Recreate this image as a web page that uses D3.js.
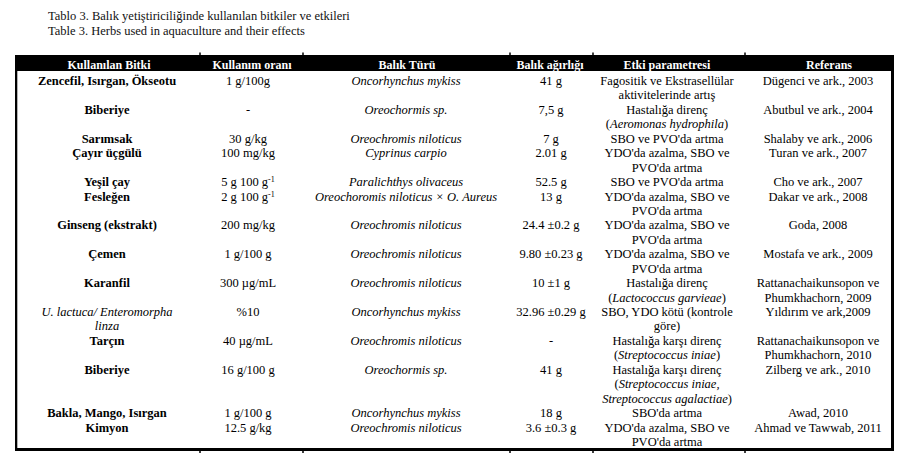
<!DOCTYPE html>
<html><head><meta charset="utf-8">
<script src="https://cdn.jsdelivr.net/npm/d3@7"></script>
<style>html,body{margin:0;padding:0;background:#fff;} svg{display:block;} svg text{font-family:"Liberation Serif","Times New Roman","DejaVu Serif",serif;}</style>
</head><body><svg id="c" width="899" height="454"></svg>
<script>
// ---- data ----
const titles = ["Tablo 3. Balık yetiştiriciliğinde kullanılan bitkiler ve etkileri",
                "Table 3. Herbs used in aquaculture and their effects"];
const headers = ["Kullanılan Bitki", "Kullanım oranı", "Balık Türü", "Balık ağırlığı", "Etki parametresi", "Referans"];
const plants = ["Zencefil, Isırgan, Ökseotu", "Biberiye", "Sarımsak", "Çayır üçgülü", "Yeşil çay", "Fesleğen",
  "Ginseng (ekstrakt)", "Çemen", "Karanfil", "*U. lactuca/ Enteromorpha*|*linza*", "Tarçın", "Biberiye",
  "Bakla, Mango, Isırgan", "Kimyon"];
const rates = ["1 g/100g", "-", "30 g/kg", "100 mg/kg", "5 g 100 g^-1^", "2 g 100 g^-1^", "200 mg/kg",
  "1 g/100 g", "300 µg/mL", "%10", "40 µg/mL", "16 g/100 g", "1 g/100 g", "12.5 g/kg"];
const species = ["Oncorhynchus mykiss", "Oreochormis sp.", "Oreochromis niloticus", "Cyprinus carpio",
  "Paralichthys olivaceus", "Oreochoromis niloticus × O. Aureus", "Oreochromis niloticus", "Oreochromis niloticus",
  "Oreochromis niloticus", "Oncorhynchus mykiss", "Oreochromis niloticus", "Oreochormis sp.",
  "Oncorhynchus mykiss", "Oreochromis niloticus"];
const weights = ["41 g", "7,5 g", "7 g", "2.01 g", "52.5 g", "13 g", "24.4 ±0.2 g", "9.80 ±0.23 g", "10 ±1 g",
  "32.96 ±0.29 g", "-", "41 g", "18 g", "3.6 ±0.3 g"];
const effects = ["Fagositik ve Ekstrasellülar|aktivitelerinde artış", "Hastalığa direnç|(*Aeromonas hydrophila*)",
  "SBO ve PVO'da artma", "YDO'da azalma, SBO ve|PVO'da artma", "SBO ve PVO'da artma",
  "YDO'da azalma, SBO ve|PVO'da artma", "YDO'da azalma, SBO ve|PVO'da artma", "YDO'da azalma, SBO ve|PVO'da artma",
  "Hastalığa direnç|(*Lactococcus garvieae*)", "SBO, YDO kötü (kontrole|göre)",
  "Hastalığa karşı direnç|(*Streptococcus iniae*)",
  "Hastalığa karşı direnç|(*Streptococcus iniae,*|*Streptococcus agalactiae*)",
  "SBO'da artma", "YDO'da azalma, SBO ve|PVO'da artma"];
const refs = ["Dügenci ve ark., 2003", "Abutbul ve ark., 2004", "Shalaby ve ark., 2006", "Turan ve ark., 2007",
  "Cho ve ark., 2007", "Dakar ve ark., 2008", "Goda, 2008", "Mostafa ve ark., 2009",
  "Rattanachaikunsopon ve|Phumkhachorn, 2009", "Yıldırım ve ark,2009",
  "Rattanachaikunsopon ve|Phumkhachorn, 2010", "Zilberg ve ark., 2010", "Awad, 2010", "Ahmad ve Tawwab, 2011"];

// ---- layout ----
const FS = 12.5;
const colEdges = [15, 200, 303, 510, 593, 745, 894];
const dataCenters = [107, 248, 406, 551, 667, 818];
const headCenters = [109, 252, 407, 550, 667, 829];
const columns = [
  {vals: plants, weight: "bold", style: "normal"},
  {vals: rates, weight: "normal", style: "normal"},
  {vals: species, weight: "normal", style: "italic"},
  {vals: weights, weight: "normal", style: "normal"},
  {vals: effects, weight: "normal", style: "normal"},
  {vals: refs, weight: "normal", style: "normal"}
];
const tableTop = 55, headBottom = 71, tableBottom = 451;

const svg = d3.select("#c").attr("font-size", FS);

// titles
svg.selectAll("text.title").data(titles).join("text").attr("class", "title")
  .attr("x", 48).attr("y", (d, i) => 19.7 + i * 15).attr("fill", "#111").text(d => d);

// line counts per row
const nRows = plants.length;
const rowLines = d3.range(nRows).map(r => d3.max(columns, c => c.vals[r].split("|").length));
const rowStart = [];
rowLines.reduce((acc, n, i) => { rowStart[i] = acc; return acc + n; }, 0);
const totalLines = d3.sum(rowLines);
const lineY = d3.scaleLinear().domain([0, totalLines - 1]).range([85, 446]);

// header band
svg.append("rect").attr("x", colEdges[0]).attr("y", tableTop)
  .attr("width", colEdges[colEdges.length - 1] - colEdges[0]).attr("height", headBottom - tableTop).attr("fill", "#000");
svg.selectAll("text.head").data(headers).join("text").attr("class", "head")
  .attr("x", (d, i) => headCenters[i]).attr("y", 68.5).attr("text-anchor", "middle")
  .attr("font-size", 12).attr("fill", "#fff").attr("font-weight", "bold").text(d => d);

// borders
svg.append("rect").attr("x", 15).attr("y", tableTop).attr("width", 2.3).attr("height", tableBottom - tableTop).attr("fill", "#000");
svg.append("rect").attr("x", 891).attr("y", tableTop).attr("width", 3).attr("height", tableBottom - tableTop).attr("fill", "#000");
svg.append("rect").attr("x", 15).attr("y", 448).attr("width", 879).attr("height", 3).attr("fill", "#000");
// separator ticks
const seps = colEdges.slice(1, -1);
svg.selectAll("rect.ttick").data(seps).join("rect").attr("class", "ttick")
  .attr("x", d => d - 0.75).attr("y", 52.5).attr("width", 1.5).attr("height", 3).attr("fill", "#000");
svg.selectAll("rect.btick").data(seps).join("rect").attr("class", "btick")
  .attr("x", d => d - 0.75).attr("y", 450).attr("width", 1.5).attr("height", 3).attr("fill", "#000");

// cell text with simple markup: | newline, *italic*, ^superscript^
function renderLine(textSel, str, baseStyle, weight) {
  let italic = baseStyle === "italic", sup = false;
  const parts = str.split(/([*^])/);
  parts.forEach(p => {
    if (p === "*") { italic = !italic; return; }
    if (p === "^") { sup = !sup; return; }
    if (!p) return;
    const t = textSel.append("tspan").text(p).attr("font-style", italic ? "italic" : "normal");
    // marked italic names inside bold column are set in regular weight
    if (italic && baseStyle !== "italic") t.attr("font-weight", "normal");
    if (sup) t.attr("font-size", 8).attr("baseline-shift", "4");
  });
}

columns.forEach((col, ci) => {
  col.vals.forEach((v, r) => {
    v.split("|").forEach((ln, li) => {
      const t = svg.append("text").attr("x", dataCenters[ci]).attr("y", lineY(rowStart[r] + li))
        .attr("text-anchor", "middle").attr("fill", "#000").attr("font-weight", col.weight);
      renderLine(t, ln, col.style, col.weight);
    });
  });
});
</script></body></html>
